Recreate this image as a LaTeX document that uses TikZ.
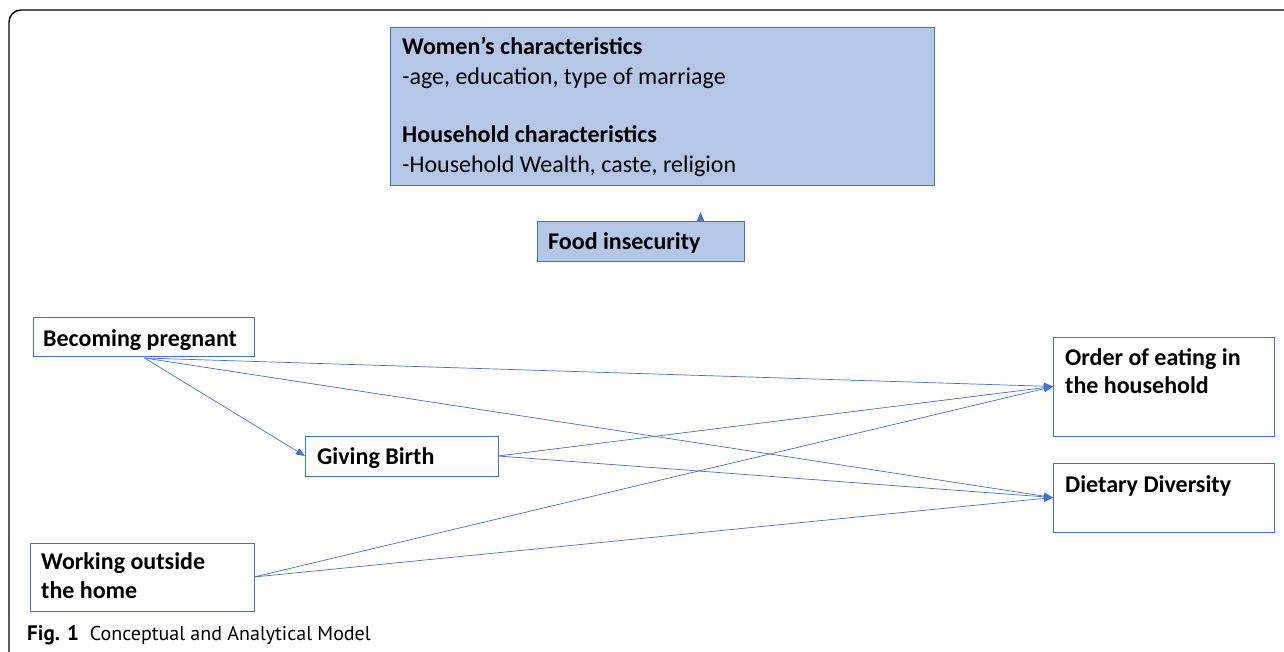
\documentclass[tikz,border=0pt]{standalone}
\usepackage{fontspec}
\setmainfont{Carlito}
\newfontfamily\capfont{PT Sans}
\usetikzlibrary{arrows.meta}
\definecolor{boxfill}{HTML}{B4C7E7}
\definecolor{boxline}{HTML}{4472C4}
\definecolor{lineblue}{HTML}{4472C4}
\tikzset{
  box/.style={draw=boxline, line width=1pt, fill=white, anchor=north west, inner sep=0pt, outer sep=0pt},
  filledbox/.style={box, fill=boxfill},
  txt/.style={anchor=base west, inner sep=0pt, font=\fontsize{24}{29}\selectfont},
  conn/.style={draw=lineblue, line width=0.7pt, -{Triangle[length=9pt,width=7pt]}},
}
\begin{document}
\begin{tikzpicture}[x=1pt, y=-1pt]
\useasboundingbox (0,0) rectangle (1284,651);
\fill[white] (0,0) rectangle (1284,651);
% frame
\draw[line width=1.4pt, rounded corners=12pt] (9,660) -- (9,10) -- (1295,10);
% boxes
\node[filledbox, minimum width=544pt, minimum height=158pt] (wc) at (390,27) {};
\node[filledbox, minimum width=207pt, minimum height=40pt] (fi) at (537,221) {};
\node[box, minimum width=221pt, minimum height=39pt] (bp) at (33,317) {};
\node[box, minimum width=193pt, minimum height=40pt] (gb) at (305,436) {};
\node[box, minimum width=224pt, minimum height=68pt] (wo) at (30,543) {};
\node[box, minimum width=221pt, minimum height=99pt] (oe) at (1053,337) {};
\node[box, minimum width=221pt, minimum height=69pt] (dd) at (1053,463) {};
% texts
\node[txt] (wc1) at (402,54) {\textbf{Women’s characteristics}};
\node[txt] (wc2) at (402,84) {-age, education, type of marriage};
\node[txt] (wc3) at (402,142) {\textbf{Household characteristics}};
\node[txt] (wc4) at (402,172) {-Household Wealth, caste, religion};
\node[txt] (fit) at (548,249) {\textbf{Food insecurity}};
\node[txt] (bpt) at (43,346) {\textbf{Becoming pregnant}};
\node[txt] (gbt) at (317,464) {\textbf{Giving Birth}};
\node[txt] (wot1) at (41,569) {\textbf{Working outside}};
\node[txt] (wot2) at (41,598) {\textbf{the home}};
\node[txt] (oet1) at (1065,365) {\textbf{Order of eating in}};
\node[txt] (oet2) at (1065,393) {\textbf{the household}};
\node[txt] (ddt) at (1065,492) {\textbf{Dietary Diversity}};
% connectors
\draw[conn] ([xshift=60pt]fi.north) -- ([xshift=60pt,yshift=9pt]fi.north);
\draw[conn] ([xshift=1pt,yshift=-2pt]bp.south) -- (gb.west);
\draw[conn] ([xshift=1pt,yshift=-2pt]bp.south) -- (oe.west);
\draw[conn] ([xshift=1pt,yshift=-2pt]bp.south) -- (dd.west);
\draw[conn] (gb.east) -- (oe.west);
\draw[conn] (gb.east) -- (dd.west);
\draw[conn] (wo.east) -- (oe.west);
\draw[conn] (wo.east) -- (dd.west);
% caption
\node[anchor=base west, inner sep=0pt, font=\capfont\fontsize{20}{24}\selectfont] (cap) at (27,640) {{\fontsize{21}{24}\selectfont\textbf{Fig. 1}}\hspace{11pt}Conceptual and Analytical Model};
\end{tikzpicture}
\end{document}
